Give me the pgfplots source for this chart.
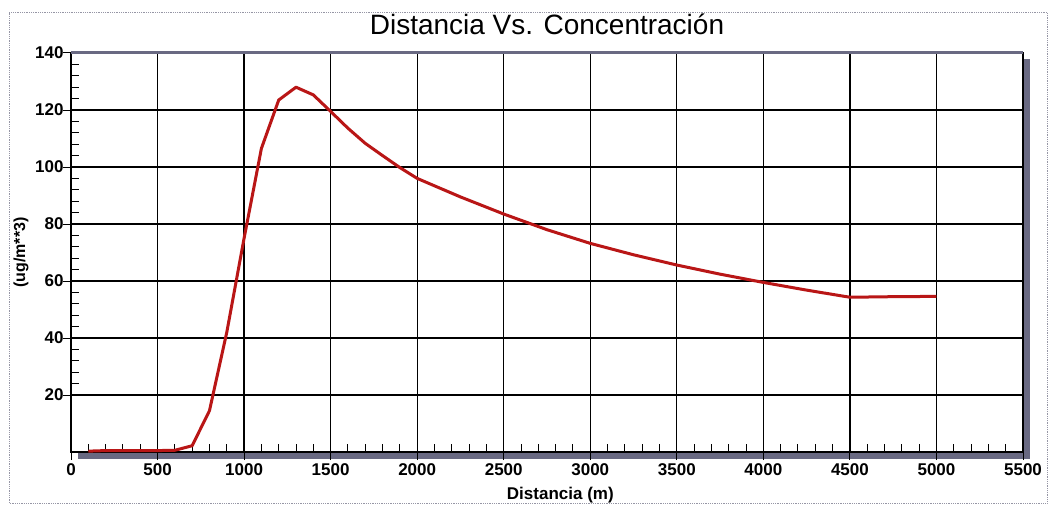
\documentclass[border=0pt]{standalone}
\usepackage{fontspec}
\setmainfont{Liberation Sans}
\usepackage{pgfplots}
\pgfplotsset{compat=1.18}
\definecolor{curvered}{RGB}{185,22,22}
\definecolor{shadowc}{RGB}{105,105,130}
\definecolor{framec}{RGB}{150,150,165}
\begin{document}
\begin{tikzpicture}[x=1pt,y=1pt]
\useasboundingbox (0,0) rectangle (1049,507);
\draw[framec, line width=0.8pt, densely dotted] (9,4) rectangle (1047,495);
\fill[shadowc] (78,48) rectangle (1030,448);
\begin{axis}[
  at={(71pt,55pt)}, anchor=south west,
  width=952pt, height=399pt, scale only axis,
  xmin=0, xmax=5500, ymin=0, ymax=140,
  axis background/.style={fill=white},
  xtick={0,500,...,5500},
  ytick={20,40,...,140},
  minor x tick num=4, minor y tick num=4,
  tick pos=left,
  tick align=inside,
  major tick length=0pt, minor tick length=8pt,
  every tick/.style={black, line width=1pt},
  extra x ticks={0,500,...,5500}, extra x tick labels={},
  extra y ticks={20,40,...,140}, extra y tick labels={},
  extra tick style={tick align=outside, major tick length=8pt, grid=none},
  grid=major,
  major grid style={black, line width=1.3pt},
  axis line style={black, line width=1.3pt},
  /pgf/number format/assume math mode=true,
  /pgf/number format/set thousands separator={},
  tick label style={font=\fontsize{17}{17}\selectfont\bfseries},
  xticklabel style={yshift=-8pt},
  yticklabel style={xshift=-4pt},
  title={Distancia Vs. Concentración},
  title style={font=\fontsize{28}{28}\selectfont, at={(rel axis cs:0.5,1)}, anchor=center, yshift=23pt},
  xlabel={Distancia (m)},
  xlabel style={font=\fontsize{17}{17}\selectfont\bfseries, at={(rel axis cs:0.514,0)}, anchor=center, yshift=-43pt},
  ylabel={(ug/m**3)},
  ylabel style={font=\fontsize{16}{16}\selectfont\bfseries, at={(rel axis cs:0,0.5)}, anchor=center, yshift=50pt},
  clip=false,
]
\addplot[curvered, line width=3pt, line join=round] coordinates {
(100,0.3) (200,0.5) (300,0.5) (400,0.5) (500,0.5) (600,0.6)
(700,2.2) (800,14.5) (900,42) (1000,75) (1100,106.5) (1200,123.5)
(1300,128) (1400,125.3) (1500,119.5) (1600,113.6) (1700,108.3)
(1800,104) (1900,99.8) (2000,96) (2250,89.5) (2500,83.5)
(2750,78) (3000,73.2) (3250,69.2) (3500,65.6) (3750,62.4)
(4000,59.5) (4250,56.8) (4500,54.3) (4750,54.5) (5000,54.6)
};
\draw[shadowc, line width=3pt] (rel axis cs:0,1) -- (rel axis cs:1,1);
\end{axis}
\end{tikzpicture}
\end{document}
